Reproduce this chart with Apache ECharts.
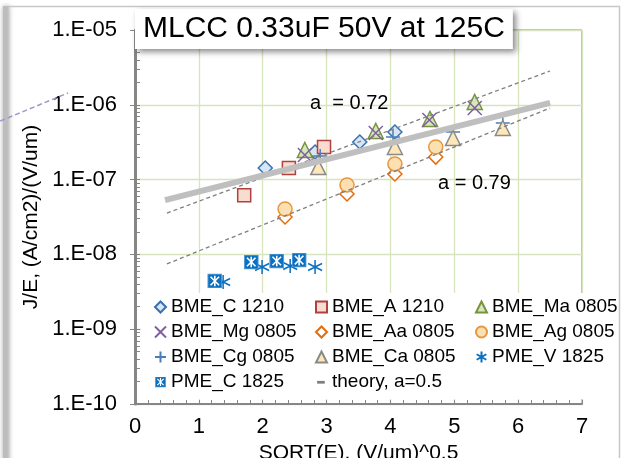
<!DOCTYPE html>
<html>
<head>
<meta charset="utf-8">
<script src="https://cdn.jsdelivr.net/npm/echarts@6/dist/echarts.min.js"></script>
<style>
html,body{margin:0;padding:0;background:#fff;}
#chart{width:625px;height:458px;}
</style>
</head>
<body>
<div id="chart"></div>
<script>
// ---------- data ----------
const titleText = 'MLCC 0.33uF 50V at 125C';
const xAxisName = 'SQRT(E), (V/um)^0.5';
const yAxisName = 'J/E, (A/cm2)/(V/um)';
const yTickLabels = ['1.E-10', '1.E-09', '1.E-08', '1.E-07', '1.E-06', '1.E-05'];

const bmeC1210  = [[2.04, 1.43e-7], [2.82, 2.34e-7], [3.52, 3.18e-7], [4.07, 4.33e-7]];
const bmeA1210  = [[1.71, 6.2e-8], [2.41, 1.43e-7], [2.96, 2.73e-7]];
const bmeMa0805 = [[2.66, 2.49e-7], [3.77, 4.47e-7], [4.62, 6.46e-7], [5.32, 1.09e-6]];
const bmeMg0805 = [[2.66, 2.13e-7], [3.77, 4.2e-7], [4.61, 6.27e-7], [5.32, 9.06e-7]];
const bmeAa0805 = [[2.35, 3.16e-8], [3.32, 6.41e-8], [4.07, 1.19e-7], [4.71, 2.0e-7]];
const bmeAg0805 = [[2.35, 4.05e-8], [3.32, 8.47e-8], [4.07, 1.62e-7], [4.71, 2.73e-7]];
const bmeCg0805 = [[2.90, 2.07e-7], [4.04, 3.72e-7], [4.98, 4.33e-7], [5.76, 5.71e-7]];
const bmeCa0805 = [[2.87, 1.47e-7], [4.07, 2.73e-7], [4.98, 3.6e-7], [5.76, 4.9e-7]];
const pmeV1825  = [[1.38, 4.28e-9], [1.99, 6.79e-9], [2.43, 7.0e-9], [2.82, 6.79e-9]];
const pmeC1825  = [[1.25, 4.41e-9], [1.82, 7.91e-9], [2.22, 8.16e-9], [2.57, 8.41e-9]];
const theoryA05 = [[0.47, 5.33e-8], [6.5, 1.06e-6]];
const fitA072   = [[0.5, 3.57e-8], [6.5, 2.83e-6]];
const fitA079   = [[0.5, 7.45e-9], [6.5, 9.06e-7]];
const strayLine = [[-2.11, 6.07e-7], [-1.05, 1.44e-6]];
const fitLabels = ['a  = 0.72', 'a = 0.79'];

// ---------- styling ----------
const FONT = "'Liberation Sans', Arial, sans-serif";
const minorTickValues = [];
for (let e = -10; e < -5; e++) {
  for (let m = 1; m <= 9; m++) minorTickValues.push(Number((m * Math.pow(10, e)).toPrecision(3)));
}
minorTickValues.push(1e-5);

const svgUri = s => 'image://data:image/svg+xml;charset=utf-8,' + encodeURIComponent(s);
const pmeCSymbol = svgUri("<svg xmlns='http://www.w3.org/2000/svg' width='28' height='28'><rect x='1' y='1' width='26' height='26' fill='#0a70c0' stroke='#5b9bd5' stroke-width='2'/><g stroke='#ffffff' stroke-width='3'><line x1='14' y1='4' x2='14' y2='24'/><line x1='6' y1='6' x2='22' y2='22'/><line x1='22' y1='6' x2='6' y2='22'/></g></svg>");
const dashIcon = svgUri("<svg xmlns='http://www.w3.org/2000/svg' width='20' height='20'><rect x='2' y='8' width='14' height='5' fill='#7f7f7f'/></svg>");
const xPath = 'path://M0,0 L10,10 M10,0 L0,10';
const plusPath = 'path://M5,0 L5,10 M0,5 L10,5';
const starPath = 'path://M5,0 L5,10 M0.6,2.5 L9.4,7.5 M9.4,2.5 L0.6,7.5';

function scatter(name, data, symbol, size, fill, border, bw) {
  return {
    name, type: 'scatter', data, symbol, symbolSize: size,
    itemStyle: { color: fill, borderColor: border, borderWidth: bw, opacity: 1 },
    emphasis: { disabled: true }
  };
}
function line(name, data, color, width, type, extra) {
  return Object.assign({
    name, type: 'line', data, symbol: 'none', silent: true,
    lineStyle: { color, width, type },
    itemStyle: { color },
    emphasis: { disabled: true }
  }, extra || {});
}

const legendCommon = {
  orient: 'vertical', top: 296, padding: 0, itemGap: 3,
  itemWidth: 11, itemHeight: 11, selectedMode: false,
  textStyle: { fontSize: 19, lineHeight: 22, color: '#000', fontFamily: FONT }
};

const option = {
  backgroundColor: '#fff',
  animation: false,
  title: {
    text: titleText, left: 135, top: 9, padding: [5, 8, 5, 8],
    backgroundColor: '#fff', shadowBlur: 6, shadowColor: 'rgba(0,0,0,0.45)',
    shadowOffsetX: 3, shadowOffsetY: 3,
    textStyle: { fontSize: 30, fontWeight: 'normal', color: '#000', fontFamily: FONT }
  },
  grid: { left: 135, right: 43, top: 30, bottom: 54, show: true, borderColor: '#808080', borderWidth: 1,
          outerBoundsMode: 'none', containLabel: false },
  legend: [
    Object.assign({ left: 154, data: ['BME_C 1210', 'BME_Mg 0805', 'BME_Cg 0805', 'PME_C 1825'] }, legendCommon),
    Object.assign({ left: 315, data: ['BME_A 1210', 'BME_Aa 0805', 'BME_Ca 0805', { name: 'theory, a=0.5', icon: dashIcon }] }, legendCommon),
    Object.assign({ left: 475, data: ['BME_Ma 0805', 'BME_Ag 0805', 'PME_V 1825'] }, legendCommon)
  ],
  xAxis: {
    type: 'value', min: 0, max: 7, interval: 1,
    name: xAxisName, nameLocation: 'middle', nameGap: 31,
    nameTextStyle: { fontSize: 21, color: '#000', fontFamily: FONT },
    axisLine: { lineStyle: { color: '#868686', width: 2 } },
    axisTick: { inside: true, length: 4, lineStyle: { color: '#868686' } },
    minorTick: { show: true, splitNumber: 5, length: 4, lineStyle: { color: '#868686' } },
    splitLine: { lineStyle: { color: '#d7e4bd', width: 1.3 } },
    axisLabel: { fontSize: 22, color: '#000', margin: 12, fontFamily: FONT }
  },
  yAxis: [
    {
      type: 'log', logBase: 10, min: 1e-10, max: 1e-5, splitNumber: 5,
      name: yAxisName, nameLocation: 'middle', nameGap: 73, nameRotate: 90,
      nameTextStyle: { fontSize: 21, color: '#000', fontFamily: FONT },
      axisLine: { show: true, lineStyle: { color: '#868686', width: 3 } },
      axisTick: { show: true, inside: false, length: 5, lineStyle: { color: '#868686' } },
      splitLine: { show: true, lineStyle: { color: '#d7e4bd', width: 1.3 } },
      axisLabel: {
        fontSize: 22, color: '#000', margin: 18, fontFamily: FONT,
        formatter: v => yTickLabels[Math.round(Math.log10(v)) + 10] || ''
      }
    },
    {
      type: 'log', logBase: 10, min: 1e-10, max: 1e-5, position: 'left',
      axisLine: { show: false }, splitLine: { show: false }, axisLabel: { show: false },
      axisTick: { show: true, inside: true, length: 5, customValues: minorTickValues, lineStyle: { color: '#868686' } }
    }
  ],
  series: [
    line('fit 0.72', fitA072, '#7f7f7f', 1.3, [4, 3]),
    line('fit 0.79', fitA079, '#7f7f7f', 1.3, [4, 3]),
    scatter('BME_C 1210', bmeC1210, 'diamond', 14, '#d6e6f4', '#3a6fb0', 1.5),
    scatter('BME_A 1210', bmeA1210, 'rect', 13, '#f9dcd0', '#b0413e', 1.5),
    scatter('BME_Ma 0805', bmeMa0805, 'triangle', 15, '#d8e6c0', '#77933c', 1.5),
    scatter('BME_Mg 0805', bmeMg0805, xPath, 14, '#7f5fa0', '#7f5fa0', 1.5),
    scatter('BME_Aa 0805', bmeAa0805, 'diamond', 14, '#ffffff', '#e46c0a', 1.5),
    scatter('BME_Ag 0805', bmeAg0805, 'circle', 14, '#fde0b2', '#e8963c', 1.5),
    scatter('BME_Cg 0805', bmeCg0805, plusPath, 14, '#4a7ebb', '#4a7ebb', 1.5),
    scatter('BME_Ca 0805', bmeCa0805, 'triangle', 15, '#fde7b8', '#8a8a8a', 1.5),
    scatter('PME_V 1825', pmeV1825, starPath, 14, '#0a70c0', '#0a70c0', 1.5),
    scatter('PME_C 1825', pmeC1825, pmeCSymbol, 15, '#0a70c0', '#0a70c0', 0),
    line('theory, a=0.5', theoryA05, '#bfbfbf', 6, 'solid', { z: 3 })
  ]
};

const chart = echarts.init(document.getElementById('chart'), null, { renderer: 'canvas' });
chart.setOption(option);

// stray dashed line that runs outside the plot area (left edge of the picture),
// positioned through the chart's own axes
const strayPts = strayLine.map(p => chart.convertToPixel({ xAxisIndex: 0, yAxisIndex: 0 }, p));
chart.setOption({
  graphic: [
    { id: 'frameL', type: 'rect', z: 0, silent: true, shape: { x: 3, y: 6, width: 6, height: 460 },
      style: { fill: '#bdbdbd', shadowBlur: 5, shadowColor: 'rgba(0,0,0,0.35)' } },
    { id: 'frame', type: 'rect', z: 0, silent: true, shape: { x: 8.5, y: 6.5, width: 611, height: 470 },
      style: { fill: 'none', stroke: '#c8c8c8', lineWidth: 1.5 } },
    { id: 'legendBox', type: 'rect', z: 1, silent: true, shape: { x: 141, y: 293, width: 476, height: 106 }, style: { fill: '#fff' } },
    { id: 'lab072', type: 'text', z: 5, x: 310, y: 103, style: { text: fitLabels[0], font: '20px ' + FONT, fill: '#000', verticalAlign: 'middle' } },
    { id: 'lab079', type: 'text', z: 5, x: 438, y: 183, style: { text: fitLabels[1], font: '20px ' + FONT, fill: '#000', verticalAlign: 'middle' } },
    { id: 'stray', type: 'polyline', z: 5, silent: true, shape: { points: strayPts },
      style: { stroke: '#a394cc', lineWidth: 1.5, lineDash: [5, 3], fill: null } }
  ]
});
</script>
</body>
</html>
